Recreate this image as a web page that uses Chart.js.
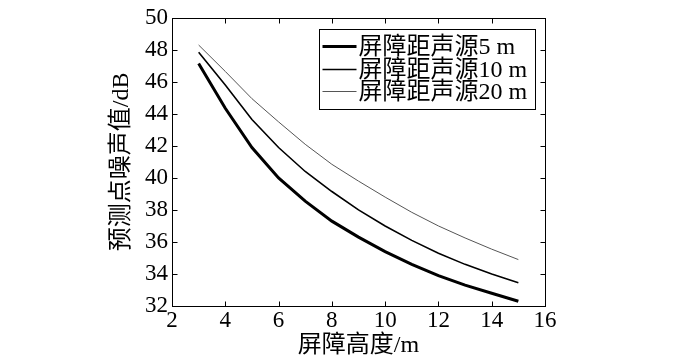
<!DOCTYPE html>
<html><head><meta charset="utf-8">
<script src="https://cdn.jsdelivr.net/npm/chart.js@4/dist/chart.umd.min.js"></script>
<style>html,body{margin:0;padding:0;background:#fff}</style>
</head><body>
<canvas id="c" width="700" height="358"></canvas>
<script>
// Data
const heights  = [3, 4, 5, 6, 7, 8, 9, 10, 11, 12, 13, 14, 15];
const noise5m  = [47.15, 44.35, 41.9, 40.0, 38.55, 37.3, 36.3, 35.4, 34.6, 33.9, 33.3, 32.8, 32.3];
const noise10m = [47.85, 45.8, 43.65, 41.9, 40.4, 39.15, 38.0, 37.0, 36.1, 35.3, 34.6, 34.0, 33.45];
const noise20m = [48.3, 46.65, 44.95, 43.5, 42.1, 40.85, 39.8, 38.8, 37.85, 37.0, 36.25, 35.55, 34.9];
const seriesNames = ['屏障距声源5 m', '屏障距声源10 m', '屏障距声源20 m'];
const xTicks = [2, 4, 6, 8, 10, 12, 14, 16];
const yTicks = [32, 34, 36, 38, 40, 42, 44, 46, 48, 50];
const xTitle = '屏障高度/m';
const yTitle = '预测点噪声值/dB';

const FONT = "'Liberation Serif', 'Times New Roman', 'Noto Sans CJK SC', serif";

const toPts = arr => heights.map((h, i) => ({x: h, y: arr[i]}));

const framePlugin = {
  id: 'frame',
  afterDatasetsDraw(chart) {
    const {ctx, chartArea: a, scales: {x, y}} = chart;
    const L = Math.round(a.left) + 0.5, R = Math.round(a.right) + 0.5;
    const T = Math.round(a.top) + 0.5, B = Math.round(a.bottom) + 0.5;
    ctx.save();
    ctx.strokeStyle = '#000';
    ctx.lineWidth = 1;
    ctx.strokeRect(L, T, R - L, B - T);
    ctx.beginPath();
    const tl = 5;
    xTicks.forEach(v => {
      const px = Math.round(x.getPixelForValue(v)) + 0.5;
      ctx.moveTo(px, B); ctx.lineTo(px, B - tl);
      ctx.moveTo(px, T); ctx.lineTo(px, T + tl);
    });
    yTicks.forEach(v => {
      const py = Math.round(y.getPixelForValue(v)) + 0.5;
      ctx.moveTo(L, py); ctx.lineTo(L + tl, py);
      ctx.moveTo(R, py); ctx.lineTo(R - tl, py);
    });
    ctx.stroke();
    ctx.restore();
  }
};

const legendPlugin = {
  id: 'innerLegend',
  afterDraw(chart) {
    const {ctx, chartArea: a} = chart;
    const w = 216, h = 80;
    const bx = Math.round(a.right - 10 - w) + 0.5;
    const by = Math.round(a.top + 11) + 0.5;
    ctx.save();
    ctx.fillStyle = '#fff';
    ctx.fillRect(bx, by, w, h);
    ctx.strokeStyle = '#000';
    ctx.lineWidth = 1;
    ctx.strokeRect(bx, by, w, h);
    const rows = [17, 40, 62];
    chart.data.datasets.forEach((ds, i) => {
      const yy = by + rows[i];
      ctx.beginPath();
      ctx.strokeStyle = ds.borderColor;
      ctx.lineWidth = ds.borderWidth;
      ctx.moveTo(bx + 3, yy);
      ctx.lineTo(bx + 37, yy);
      ctx.stroke();
      ctx.fillStyle = '#000';
      ctx.font = '24px ' + FONT;
      ctx.textBaseline = 'middle';
      ctx.textAlign = 'left';
      ctx.fillText(ds.label, bx + 39, yy + 1);
    });
    ctx.restore();
  }
};

new Chart(document.getElementById('c'), {
  type: 'line',
  data: {
    datasets: [
      {label: seriesNames[0], data: toPts(noise5m),  borderColor: '#000', borderWidth: 3,   pointRadius: 0, tension: 0, fill: false},
      {label: seriesNames[1], data: toPts(noise10m), borderColor: '#000', borderWidth: 1.6, pointRadius: 0, tension: 0, fill: false},
      {label: seriesNames[2], data: toPts(noise20m), borderColor: '#555', borderWidth: 1,   pointRadius: 0, tension: 0, fill: false}
    ]
  },
  options: {
    responsive: false,
    animation: false,
    devicePixelRatio: 1,
    layout: {padding: {left: 0, top: 15, right: 155, bottom: 0}},
    plugins: {legend: {display: false}, tooltip: {enabled: false}},
    scales: {
      x: {
        type: 'linear', min: 2, max: 16,
        afterBuildTicks(s) { s.ticks = xTicks.map(v => ({value: v})); },
        ticks: {color: '#000', font: {family: FONT, size: 23}, padding: 1, maxRotation: 0, autoSkip: false},
        grid: {display: false, drawTicks: false},
        border: {display: false},
        title: {display: true, text: xTitle, color: '#000', font: {family: FONT, size: 24, lineHeight: 1}, padding: 0},
        afterFit(s) { s.height = 52; }
      },
      y: {
        type: 'linear', min: 32, max: 50,
        afterBuildTicks(s) { s.ticks = yTicks.map(v => ({value: v})); },
        ticks: {color: '#000', font: {family: FONT, size: 23}, padding: 4, autoSkip: false},
        grid: {display: false, drawTicks: false},
        border: {display: false},
        title: {display: true, text: yTitle, color: '#000', font: {family: FONT, size: 24, lineHeight: 1}, padding: {top: 110, bottom: 0}},
        afterFit(s) { s.width = 172; }
      }
    }
  },
  plugins: [framePlugin, legendPlugin]
});
</script>
</body></html>
